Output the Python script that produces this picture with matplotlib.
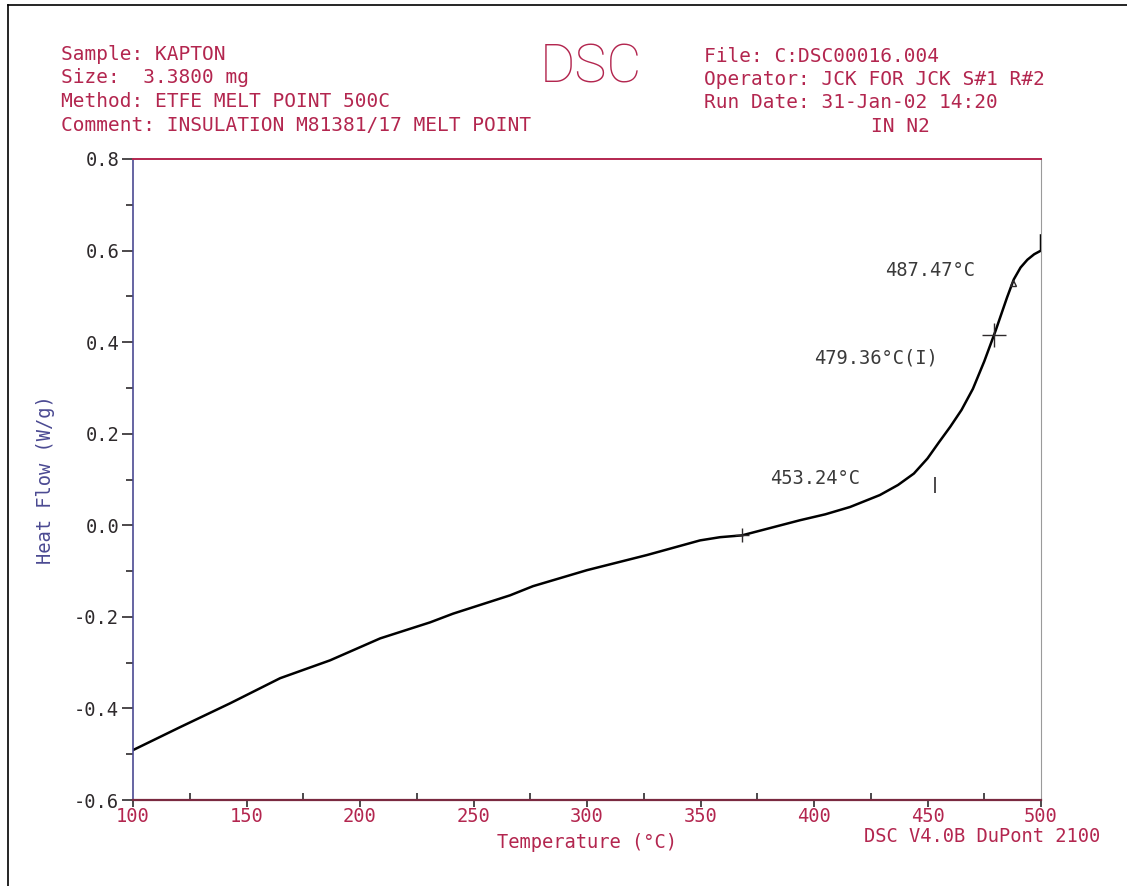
import numpy as np
import matplotlib.pyplot as plt
from matplotlib.lines import Line2D

W, H = 1127, 886

# DSC trace, heat flow (W/g) against temperature (degC)
temperature = [100, 120.7, 142.7, 164.8, 186.8, 208.9, 230.9, 241.0, 266.1, 276.2,
               300.0, 326.4, 349.8, 358.6, 368.3, 393.8, 405.0, 415.9, 429.0, 437.0,
               444.0, 450.0, 455.0, 460.0, 465.0, 470.0, 475.0, 480.0, 485.0, 488.0,
               491.0, 494.0, 497.0, 500.0, 500.0]
heat_flow = [-0.491, -0.441, -0.389, -0.334, -0.295, -0.247, -0.212, -0.193, -0.153, -0.133,
             -0.098, -0.065, -0.033, -0.026, -0.022, 0.011, 0.024, 0.040, 0.066, 0.088,
             0.113, 0.146, 0.181, 0.215, 0.252, 0.298, 0.358, 0.425, 0.497, 0.537,
             0.563, 0.580, 0.592, 0.600, 0.633]

# analysis marks
baseline_T = 368.3
onset_T, onset_HF = 453.24, 0.087
inflection_T = 479.36
peak_T = 487.47

header_left = ["Sample: KAPTON", "Size:  3.3800 mg", "Method: ETFE MELT POINT 500C",
               "Comment: INSULATION M81381/17 MELT POINT"]
header_right = ["File: C:DSC00016.004", "Operator: JCK FOR JCK S#1 R#2",
                "Run Date: 31-Jan-02 14:20"]

RED = "#b3264f"
NAVY = "#4b4a92"
INK = "#2e2a2c"
MONO = "DejaVu Sans Mono"
FS = 14


def fpos(x, y):
    return x / W, 1 - y / H


fig = plt.figure(figsize=(W / 100, H / 100), dpi=100)
ax = fig.add_axes([133 / W, 1 - 800 / H, (1041 - 133) / W, (800 - 159) / H])

ax.plot(temperature, heat_flow, color="black", lw=1.8, solid_joinstyle="round")

hf = lambda t: np.interp(t, temperature[:-1], heat_flow[:-1])
ax.plot(baseline_T, hf(baseline_T), marker="+", ms=10, color=INK, mew=1)
ax.plot(inflection_T, hf(inflection_T), marker="+", ms=17, color=INK, mew=1)
ax.plot(onset_T, onset_HF, marker="|", ms=11, color=INK, mew=1.2)
ax.plot(peak_T, hf(peak_T), marker="^", ms=4, color=INK, mfc="none", mew=1)

ann = dict(fontfamily=MONO, fontsize=FS - 0.5, color="#3a3a3a", va="center")
ax.text(onset_T - 33, 0.103, f"{onset_T:.2f}°C", ha="right", **ann)
ax.text(inflection_T - 25, 0.365, f"{inflection_T:.2f}°C(I)", ha="right", **ann)
ax.text(peak_T - 16.5, 0.557, f"{peak_T:.2f}°C", ha="right", **ann)

ax.set_xlim(100, 500)
ax.set_ylim(-0.6, 0.8)
ax.set_xticks(np.arange(100, 501, 50))
ax.set_xticks(np.arange(125, 500, 50), minor=True)
ax.set_yticks(np.arange(-0.6, 0.81, 0.2))
ax.set_yticks(np.arange(-0.5, 0.8, 0.2), minor=True)
ax.set_yticklabels([f"{v:.1f}".replace("-0.0", "0.0") for v in np.arange(-0.6, 0.81, 0.2)])

ax.tick_params(axis="y", which="major", direction="out", length=8, width=1.2, color=INK)
ax.tick_params(axis="x", which="major", direction="out", length=5, width=1.2, color=INK)
ax.tick_params(axis="x", which="minor", direction="in", length=5, width=1.2, color=INK)
ax.tick_params(axis="y", which="minor", direction="out", length=5, width=1.2, color=INK)
ax.tick_params(axis="y", labelsize=FS - 0.5, labelcolor=INK, pad=2)
ax.tick_params(axis="x", labelsize=FS - 0.5, labelcolor=RED, pad=0)
for lab in ax.get_xticklabels() + ax.get_yticklabels():
    lab.set_fontfamily(MONO)

ax.spines["top"].set_color(RED)
ax.spines["top"].set_linewidth(1.4)
ax.spines["bottom"].set_color("#7a2a40")
ax.spines["bottom"].set_linewidth(1.6)
ax.spines["left"].set_color(NAVY)
ax.spines["left"].set_linewidth(1.2)
ax.spines["right"].set_color("#9a9a9a")
ax.spines["right"].set_linewidth(0.8)

ax.set_xlabel("Temperature (°C)", fontfamily=MONO, fontsize=FS - 0.5, color=RED, labelpad=5)
ax.yaxis.set_label_coords(-0.086, 0.5)
ax.set_ylabel("Heat Flow (W/g)", fontfamily=MONO, fontsize=FS - 0.5, color=NAVY)

# page header
for i, line in enumerate(header_left):
    fig.text(*fpos(61, 54 + i * 23.7), line, fontfamily=MONO, fontsize=FS,
             color=RED, va="center", ha="left")
for i, line in enumerate(header_right):
    fig.text(*fpos(704, 57 + i * 22.5), line, fontfamily=MONO, fontsize=FS,
             color=RED, va="center", ha="left")
fig.text(*fpos(871, 126), "IN N2", fontfamily=MONO, fontsize=FS, color=RED,
         va="center", ha="left")
fig.text(*fpos(591, 68), "DSC", fontfamily="Roboto", fontweight="light",
         fontsize=39, color=RED, va="center", ha="center")
fig.text(*fpos(864, 837), "DSC V4.0B DuPont 2100", fontfamily=MONO, fontsize=FS - 0.5,
         color=RED, va="center", ha="left")

# page frame
fig.add_artist(Line2D([8 / W, 8 / W], [0, 1 - 5 / H], color="black", lw=1.2))
fig.add_artist(Line2D([8 / W, 1], [1 - 5 / H, 1 - 5 / H], color="black", lw=1.2))

fig.savefig("out.png", dpi=100)
